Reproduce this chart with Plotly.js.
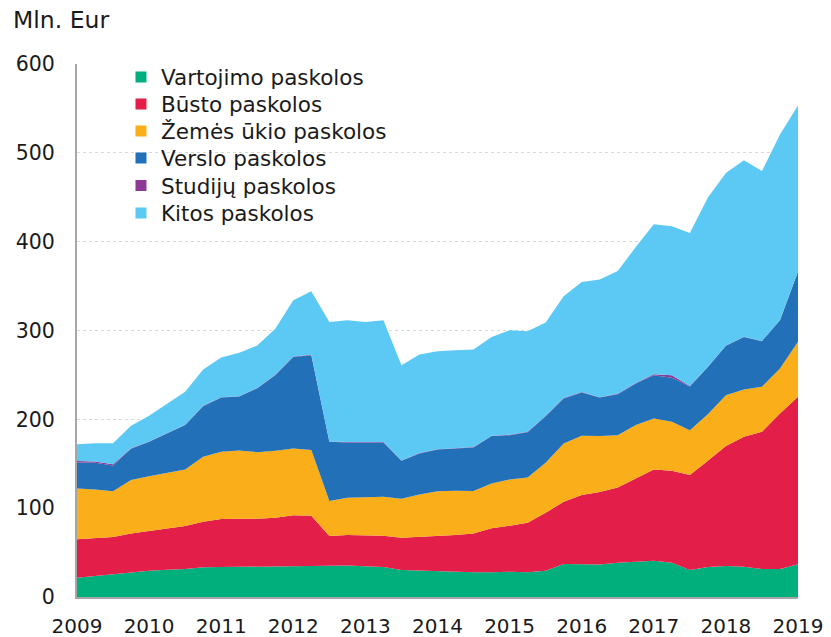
<!DOCTYPE html>
<html>
<head>
<meta charset="utf-8">
<script src="https://cdn.plot.ly/plotly-3.0.1.min.js"></script>
<style>html,body{margin:0;padding:0;background:#fff;}#chart{width:831px;height:637px;}</style>
</head>
<body>
<div id="chart"></div>
<script>
// Quarterly observations, 2009 Q1 .. 2019 Q1 (41 points)
const startYear = 2009;
const seriesNames = ["Vartojimo paskolos", "Būsto paskolos", "Žemės ūkio paskolos", "Verslo paskolos", "Studijų paskolos", "Kitos paskolos"];
const seriesColors = ["#00af7c", "#e31e49", "#faae19", "#2270b8", "#8d3a97", "#5bc9f4"];

const vartojimo = [21.7,23.6,25.5,28,29.6,30.7,31.5,33.4,33.7,33.7,33.7,34.5,34.8,34.8,34.8,35.6,34.5,33.7,30.4,29.6,29.2,27.8,27.8,27.8,28.5,27.8,29.6,37.1,36.7,36.7,38.6,39.7,40.9,38.6,30.4,33.7,34.9,34.1,31.5,31.5,36.8];
const busto = [43.3,42.4,42,43.6,45,46.1,48.4,51.3,54,54.3,54.3,54.7,57.1,56.7,33.8,34.1,34.9,35.3,36.3,37.9,39.8,41.9,43.8,49.5,51.7,55.8,65.2,70.1,78,81.4,84.8,93.8,102.7,103.5,106.8,119.6,135,146.2,154.5,175.1,188.5];
const zemesUkio = [57,55,51.5,60,61.4,63.2,63.7,73.1,75.8,77,75,75.4,75.4,73.9,39.4,42,43.1,43.8,43.9,48,50,49.9,47.6,50.6,52.2,51,56.3,65.7,66.7,63,58.8,60,57.4,55.1,50.6,52.5,57.3,53.3,50.6,50.7,61.9];
const verslo = [29.5,30,29,35.4,38.7,44,49.9,57,61.1,60.7,72,85.1,103,106.8,66.7,62.3,61.5,61.2,42.7,46.1,47,47.3,49.2,53.2,49.8,51,52.5,50.6,48.9,43.5,46.1,46.9,48.5,49.5,49.2,53.2,55.5,59.2,51.4,54.3,78.8];
const studiju = [1.5,1.5,1.5,0.4,0.4,0.4,0.4,0.4,0.4,0.4,0.4,0.4,0.4,0.4,0.4,0.4,0.4,0.4,0.4,0.4,0.4,0.4,0.4,0.4,0.4,0.4,0.4,0.4,0.4,0.4,0.4,0.6,1.3,3.0,0.6,0.3,0.3,0.3,0.3,0.3,0.3];
const kitos = [19,20.5,23.5,25.3,28.9,33.6,37.1,40.8,44.6,48.9,47.6,51.9,63.3,71.6,134.6,137.2,135.3,137.2,107.3,111,110.3,110.5,109.8,111.3,117.7,113.2,105,114.7,124,132.4,138.3,153,168.8,167.6,172.2,190.3,194.3,198.5,191.2,208.6,187.1];
const yearTicks = [2009,2010,2011,2012,2013,2014,2015,2016,2017,2018,2019];
const yTicks = [0,100,200,300,400,500,600];

const allSeries = [vartojimo, busto, zemesUkio, verslo, studiju, kitos];
const xq = vartojimo.map((_, i) => startYear + i * 0.25);

const font = "DejaVu Sans, Verdana, sans-serif";
const traces = [];
allSeries.forEach((vals, k) => {
  traces.push({
    x: xq, y: vals, type: 'scatter', mode: 'lines', stackgroup: 'one',
    name: seriesNames[k], showlegend: false,
    line: {width: 0, color: seriesColors[k]}, fillcolor: seriesColors[k],
    hoverinfo: 'x+y+name'
  });
});
const legendIds = ['legend', 'legend2', 'legend3', 'legend4', 'legend5', 'legend6'];
seriesNames.forEach((nm, k) => {
  traces.push({
    x: [null], y: [null], type: 'scatter', mode: 'markers', name: nm,
    legend: legendIds[k],
    marker: {symbol: 'square', size: 11, color: seriesColors[k]}, showlegend: true
  });
});

// legend rows: pixel centres on a plot spanning y 64..597
const plotTop = 64, plotBottom = 597;
const rowCentres = [77, 104, 131, 158, 185.5, 213];
const layout = {
  width: 831, height: 637,
  margin: {l: 77, r: 33, t: 64, b: 40},
  paper_bgcolor: '#fff', plot_bgcolor: '#fff',
  font: {family: font, size: 20, color: '#1a1a1a'},
  showlegend: true,
  xaxis: {range: [2009, 2019], tickvals: yearTicks, ticktext: yearTicks.map(String),
          showgrid: false, zeroline: false, showline: true, linecolor: '#a6a6a6', linewidth: 2,
          ticks: '', ticklabelstandoff: 10, tickfont: {family: font, size: 20, color: '#1a1a1a'}, fixedrange: true},
  yaxis: {range: [0, 600], tickvals: yTicks, showgrid: true, gridcolor: '#d9d9d9', griddash: 'dot', gridwidth: 1,
          zeroline: false, showline: true, linecolor: '#a6a6a6', linewidth: 2,
          ticks: '', ticklabelstandoff: 16, tickfont: {family: font, size: 20.5, color: '#1a1a1a'}, fixedrange: true},
  annotations: [{text: 'Mln. Eur', xref: 'paper', yref: 'paper', x: -0.092, y: 1.083,
                 xanchor: 'left', yanchor: 'middle', showarrow: false,
                 font: {family: font, size: 23.5, color: '#1a1a1a'}}]
};
legendIds.forEach((id, k) => {
  layout[id] = {x: 0.061, xanchor: 'left', y: (plotBottom - rowCentres[k]) / (plotBottom - plotTop),
                yanchor: 'middle', bgcolor: 'rgba(0,0,0,0)',
                font: {family: font, size: 21.5, color: '#1a1a1a'}};
});
Plotly.newPlot('chart', traces, layout, {staticPlot: true, displayModeBar: false});
</script>
</body>
</html>
